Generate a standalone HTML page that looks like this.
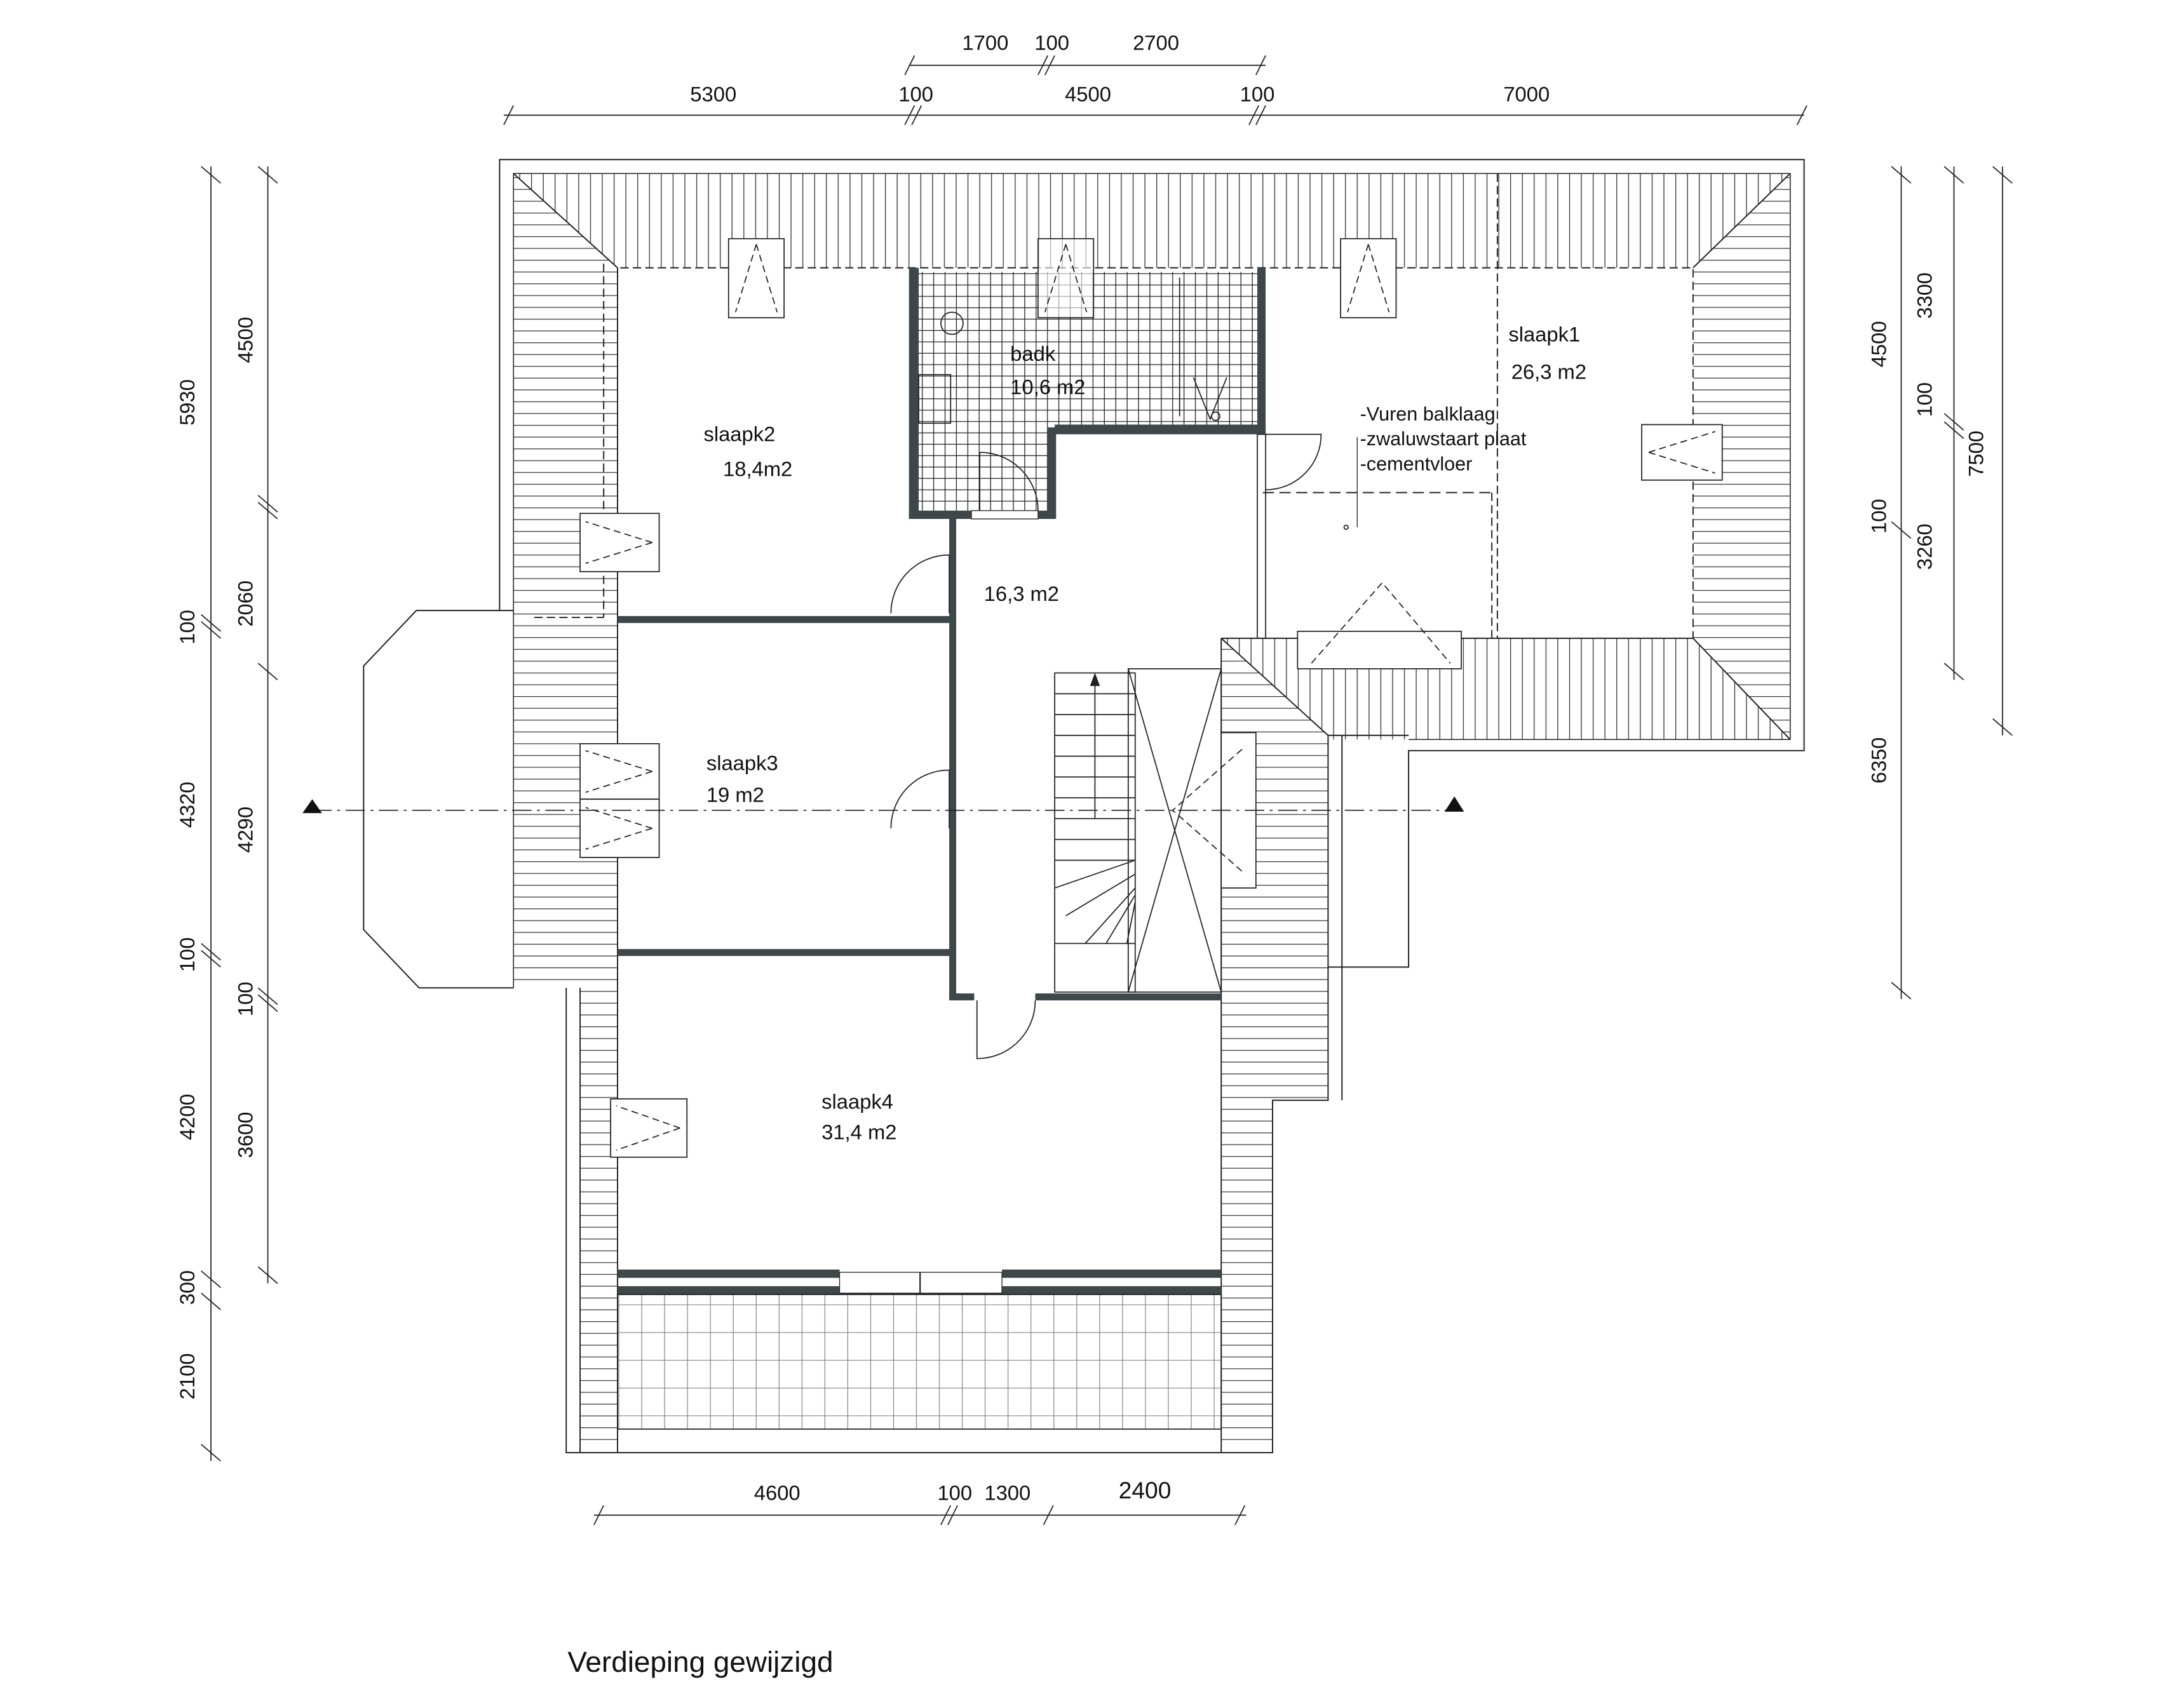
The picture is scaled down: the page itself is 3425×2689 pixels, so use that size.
<!DOCTYPE html>
<html><head><meta charset="utf-8"><style>
html,body{margin:0;padding:0;background:#fff}
svg{display:block}
text{font-family:"Liberation Sans",sans-serif;fill:#111}
</style></head><body>
<svg width="3425" height="2689" viewBox="0 0 1568 1231" xmlns="http://www.w3.org/2000/svg">
<defs>
<pattern id="hz" width="10" height="8.5" patternUnits="userSpaceOnUse"><line x1="0" y1="0.5" x2="10" y2="0.5" stroke="#333" stroke-width="0.6"/></pattern>
<pattern id="vt" width="8.5" height="10" patternUnits="userSpaceOnUse"><line x1="0.5" y1="0" x2="0.5" y2="10" stroke="#333" stroke-width="0.6"/></pattern>
<pattern id="tile" width="8.2" height="8.2" patternUnits="userSpaceOnUse"><path d="M0 0.4H8.2M0.4 0V8.2" stroke="#222" stroke-width="0.6" fill="none"/></pattern>
<pattern id="bal" width="16.5" height="20" patternUnits="userSpaceOnUse"><path d="M0 0.4H16.5M0.4 0V20" stroke="#777" stroke-width="0.5" fill="none"/></pattern>
</defs>
<g fill="none" stroke="#222" stroke-width="0.9">
<!-- roof hatch areas -->
<polygon points="370,125 1290,125 1220,193 445,193" fill="url(#vt)" stroke="none"/>
<polygon points="370,125 445,193 445,1040 418,1040 418,712 370,712" fill="url(#hz)" stroke="none"/>
<polygon points="1290,125 1290,533 1220,460 1220,193" fill="url(#hz)" stroke="none"/>
<polygon points="880,460 957,530 957,793 917,793 917,1040 880,1040" fill="url(#hz)" stroke="none"/>
<polygon points="880,460 1220,460 1290,533 957,533 957,530" fill="url(#vt)" stroke="none"/>
<!-- outer outline -->
<polyline points="408,712 408,1047 917,1047 917,793 957,793 957,697 1015,697 1015,541 1300,541 1300,115 360,115 360,440 300,440 262,480 262,670 302,712 370,712"/>
<polyline points="370,712 370,125 1290,125 1290,533 1015,533" stroke-width="0.7"/>
<line x1="957" y1="530" x2="1015" y2="530"/>
<line x1="957" y1="530" x2="957" y2="697"/>
<line x1="360" y1="440" x2="370" y2="440"/>
<line x1="418" y1="712" x2="418" y2="1047"/>
<line x1="370" y1="125" x2="445" y2="193"/><line x1="1290" y1="125" x2="1220" y2="193"/>
<line x1="880" y1="460" x2="957" y2="530"/><line x1="1220" y1="460" x2="1290" y2="533"/>
<line x1="967" y1="530" x2="967" y2="793"/>
<!-- inner lines -->
<polyline points="445,200 445,193 1220,193 1220,460" stroke-dasharray="6 3"/>
<line x1="445" y1="193" x2="445" y2="1047"/>
<line x1="880" y1="460" x2="880" y2="1047"/>
<line x1="880" y1="460" x2="1220" y2="460"/>
<line x1="1079" y1="125" x2="1079" y2="460" stroke-dasharray="6 3"/>
<line x1="1075" y1="355" x2="1075" y2="460" stroke-dasharray="6 3"/>
<line x1="910" y1="355" x2="1075" y2="355" stroke-dasharray="8 4"/>
<line x1="385" y1="445" x2="435" y2="445" stroke-dasharray="6 3"/>
<line x1="435" y1="190" x2="435" y2="445" stroke-dasharray="6 3"/>
</g>
<!-- bath -->
<polygon points="662,196 906,196 906,306 760,306 760,370 662,370" fill="url(#tile)"/>
<g fill="#3e474a">
<rect x="655" y="193" width="7" height="181"/><rect x="655" y="368" width="105" height="6"/>
<rect x="755" y="308" width="6" height="66"/><rect x="760" y="306" width="152" height="7"/>
<rect x="906" y="193" width="6" height="120"/>
<rect x="445" y="444" width="243" height="5"/><rect x="445" y="684" width="243" height="5"/>
<rect x="684" y="374" width="5" height="346"/><rect x="684" y="716" width="18" height="5"/><rect x="746" y="716" width="134" height="5"/>
<rect x="445" y="915" width="160" height="6"/><rect x="722" y="915" width="158" height="6"/>
<rect x="445" y="927" width="435" height="6"/>
</g>
<rect x="700" y="368" width="48" height="6" fill="#fff" stroke="#222" stroke-width="0.6"/>
<rect x="605" y="917" width="117" height="15" fill="#fff" stroke="#222" stroke-width="0.6"/>
<line x1="663" y1="917" x2="663" y2="932" stroke="#222"/>
<!-- balcony -->
<rect x="445" y="933" width="435" height="97" fill="url(#bal)" stroke="#222" stroke-width="0.8"/>
<g fill="none" stroke="#222" stroke-width="0.8">
<circle cx="686" cy="233" r="8"/><rect x="662" y="270" width="23" height="35"/>
<line x1="850" y1="200" x2="850" y2="300"/><path d="M860 272 L872 302 L884 272"/><circle cx="876" cy="300" r="3"/>
<path d="M706 326 A42 42 0 0 1 748 368 M706 326 V368"/>
<path d="M642 442 A42 42 0 0 1 684 400 M684 400 V442"/>
<path d="M642 597 A42 42 0 0 1 684 555 M684 555 V597"/>
<path d="M704 721 V763 A42 42 0 0 0 746 721"/>
<path d="M912 313 H952 A40 40 0 0 1 912 353"/>
<rect x="906" y="313" width="6" height="147"/>
<rect x="760" y="485" width="58" height="230"/>
<path d="M760 500 H818 M760 515 H818 M760 530 H818 M760 545 H818 M760 560 H818 M760 575 H818 M760 590 H818 M760 605 H818 M760 620 H818 M760 640 L818 620 M768 660 L818 630 M782 680 L818 640 M797 680 L818 645 M812 680 L818 650 M760 680 H818"/>
<path d="M789 492 V590"/><polygon points="789,486 786,494 792,494" fill="#222"/>
<rect x="813" y="482" width="67" height="233"/>
<path d="M813 482 L880 715 M880 482 L813 715"/>
<rect x="880" y="528" width="25" height="112" fill="#fff"/>
<path d="M895 540 L845 584 L895 628" stroke-dasharray="5 3"/>
<g>
<rect x="525" y="172" width="40" height="57" fill="#fff"/><path d="M545 176 L530 225 M545 176 L560 225" stroke-dasharray="5 3"/>
<rect x="748" y="172" width="40" height="57" fill="#fff" fill-opacity="0.6"/><path d="M768 176 L753 225 M768 176 L783 225" stroke-dasharray="5 3"/>
<rect x="966" y="172" width="40" height="57" fill="#fff"/><path d="M986 176 L971 225 M986 176 L1001 225" stroke-dasharray="5 3"/>
<rect x="1183" y="306" width="58" height="40" fill="#fff"/><path d="M1188 326 L1236 311 M1188 326 L1236 341" stroke-dasharray="5 3"/>
<rect x="418" y="370" width="57" height="42" fill="#fff"/><path d="M470 391 L422 376 M470 391 L422 406" stroke-dasharray="5 3"/>
<rect x="418" y="536" width="57" height="40" fill="#fff"/><path d="M470 556 L422 541 M470 556 L422 571" stroke-dasharray="5 3"/>
<rect x="418" y="576" width="57" height="42" fill="#fff"/><path d="M470 597 L422 582 M470 597 L422 612" stroke-dasharray="5 3"/>
<rect x="440" y="792" width="55" height="42" fill="#fff"/><path d="M490 813 L444 797 M490 813 L444 829" stroke-dasharray="5 3"/>
<rect x="935" y="455" width="118" height="27" fill="#fff"/><path d="M945 478 L996 420 L1045 478" stroke-dasharray="5 3"/>
</g>
<line x1="978" y1="315" x2="978" y2="380" stroke-width="0.6"/><circle cx="970" cy="380" r="1.5"/>
<line x1="225" y1="584" x2="1045" y2="584" stroke-dasharray="14 4 2 4" stroke-width="0.7"/>
</g>
<polygon points="225,576 218,586 232,586" fill="#111"/><polygon points="1048,574 1041,585 1055,585" fill="#111"/>
<g stroke="#222" stroke-width="0.8" fill="none">
<line x1="363" y1="83" x2="1300" y2="83"/><line x1="655" y1="47" x2="912" y2="47"/>
<line x1="428" y1="1092" x2="898" y2="1092"/>
<line x1="152" y1="120" x2="152" y2="1053"/><line x1="193" y1="120" x2="193" y2="925"/>
<line x1="1370" y1="120" x2="1370" y2="720"/><line x1="1408" y1="120" x2="1408" y2="490"/><line x1="1443" y1="120" x2="1443" y2="530"/>
<path d="M363 90 L370 76 M1295 90 L1302 76 M652 90 L659 76 M657 90 L664 76 M900 90 L907 76 M905 90 L912 76 M652 54 L659 40 M748 54 L755 40 M753 54 L760 40 M905 54 L912 40"/>
<path d="M428 1099 L435 1085 M678 1099 L685 1085 M683 1099 L690 1085 M752 1099 L759 1085 M890 1099 L897 1085"/>
<path d="M145 120 L159 132 M145 443 L159 455 M145 448 L159 460 M145 680 L159 692 M145 685 L159 697 M145 916 L159 928 M145 932 L159 944 M145 1041 L159 1053"/>
<path d="M186 120 L200 132 M186 357 L200 369 M186 362 L200 374 M186 478 L200 490 M186 712 L200 724 M186 717 L200 729 M186 913 L200 925"/>
<path d="M1363 120 L1377 132 M1363 708 L1377 720 M1401 120 L1415 132 M1401 298 L1415 310 M1401 304 L1415 316 M1401 478 L1415 490 M1436 120 L1450 132 M1436 518 L1450 530 M1363 376 L1377 388"/>
</g>
<g font-size="15" text-anchor="middle">
<text x="710" y="36">1700</text><text x="758" y="36">100</text><text x="833" y="36">2700</text>
<text x="514" y="73">5300</text><text x="660" y="73">100</text><text x="784" y="73">4500</text><text x="906" y="73">100</text><text x="1100" y="73">7000</text>
<text x="560" y="1081">4600</text><text x="688" y="1081">100</text><text x="726" y="1081">1300</text><text x="825" y="1080" font-size="17">2400</text>
<text transform="translate(140,290) rotate(-90)">5930</text>
<text transform="translate(140,452) rotate(-90)">100</text>
<text transform="translate(140,580) rotate(-90)">4320</text>
<text transform="translate(140,688) rotate(-90)">100</text>
<text transform="translate(140,805) rotate(-90)">4200</text>
<text transform="translate(140,928) rotate(-90)">300</text>
<text transform="translate(140,992) rotate(-90)">2100</text>
<text transform="translate(182,245) rotate(-90)">4500</text>
<text transform="translate(182,435) rotate(-90)">2060</text>
<text transform="translate(182,598) rotate(-90)">4290</text>
<text transform="translate(182,720) rotate(-90)">100</text>
<text transform="translate(182,818) rotate(-90)">3600</text>
<text transform="translate(1359,248) rotate(-90)">4500</text>
<text transform="translate(1359,372) rotate(-90)">100</text>
<text transform="translate(1359,548) rotate(-90)">6350</text>
<text transform="translate(1392,213) rotate(-90)">3300</text>
<text transform="translate(1392,288) rotate(-90)">100</text>
<text transform="translate(1392,394) rotate(-90)">3260</text>
<text transform="translate(1429,327) rotate(-90)">7500</text>
</g>
<g font-size="15">
<text x="507" y="318">slaapk2</text><text x="521" y="343">18,4m2</text>
<text x="728" y="260">badk</text><text x="728" y="284">10,6 m2</text>
<text x="1087" y="246">slaapk1</text><text x="1089" y="273">26,3 m2</text>
<text x="980" y="303" font-size="14">-Vuren balklaag</text>
<text x="980" y="321" font-size="14">-zwaluwstaart plaat</text>
<text x="980" y="339" font-size="14">-cementvloer</text>
<text x="709" y="433">16,3 m2</text>
<text x="509" y="555">slaapk3</text><text x="509" y="578">19 m2</text>
<text x="592" y="799">slaapk4</text><text x="592" y="821">31,4 m2</text>
<text x="409" y="1205" font-size="21">Verdieping gewijzigd</text>
</g>
</svg>
</body></html>
